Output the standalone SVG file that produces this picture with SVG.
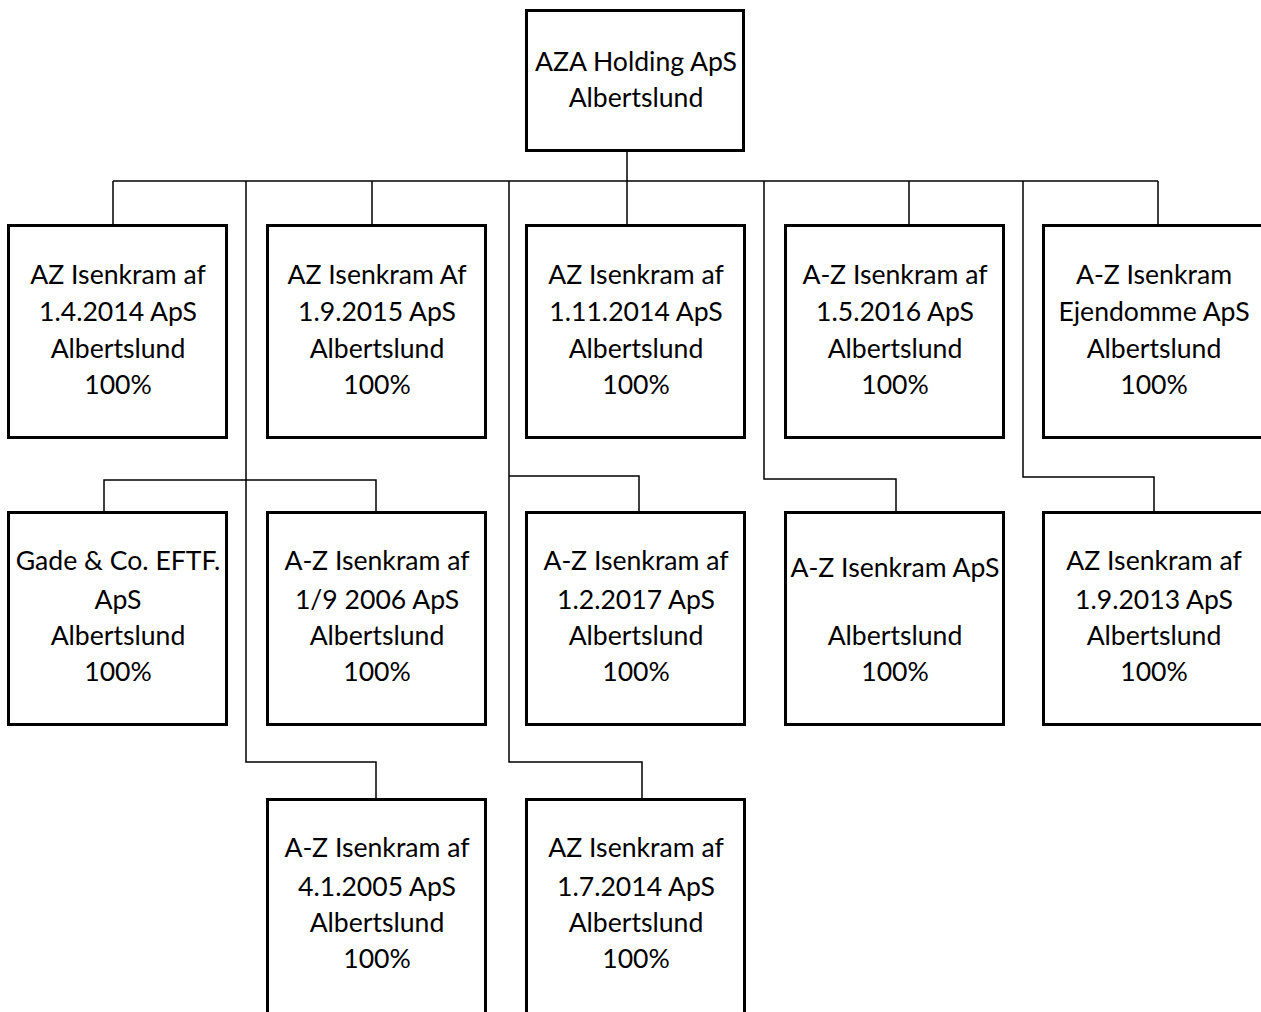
<svg xmlns="http://www.w3.org/2000/svg" width="1261" height="1012" viewBox="0 0 1261 1012">
<style>
.box{fill:#fff;stroke:#000;stroke-width:3}
.t{font-family:Lato,"Liberation Sans",sans-serif;font-size:26.6px;fill:#000;text-anchor:middle}
.c{fill:none;stroke:#000;stroke-width:1.5}
</style>
<rect width="1261" height="1012" fill="#fff"/>
<g id="connectors">
<path class="c" d="M627 152V224"/>
<path class="c" d="M113 181H1158"/>
<path class="c" d="M113 181V224M372 181V224M909 181V224M1158 181V224"/>
<path class="c" d="M246 181V762H376V798"/>
<path class="c" d="M104 511V480H376V511"/>
<path class="c" d="M509 181V762H642V798"/>
<path class="c" d="M509 476H639V511"/>
<path class="c" d="M764 181V479H896V511"/>
<path class="c" d="M1023 181V477H1154V511"/>
</g>
<g id="n0"><rect class="box" x="526.5" y="10.5" width="217" height="140"/>
<text class="t" x="636" y="71">AZA Holding ApS</text><text class="t" x="636" y="107">Albertslund</text></g>

<g id="n1"><rect class="box" x="8.5" y="225.5" width="218" height="212"/>
<text class="t" x="118" y="284">AZ Isenkram af</text><text class="t" x="118" y="321">1.4.2014 ApS</text><text class="t" x="118" y="358">Albertslund</text><text class="t" x="118" y="394">100%</text></g>
<g id="n2"><rect class="box" x="267.5" y="225.5" width="218" height="212"/>
<text class="t" x="377" y="284">AZ Isenkram Af</text><text class="t" x="377" y="321">1.9.2015 ApS</text><text class="t" x="377" y="358">Albertslund</text><text class="t" x="377" y="394">100%</text></g>
<g id="n3"><rect class="box" x="526.5" y="225.5" width="218" height="212"/>
<text class="t" x="636" y="284">AZ Isenkram af</text><text class="t" x="636" y="321">1.11.2014 ApS</text><text class="t" x="636" y="358">Albertslund</text><text class="t" x="636" y="394">100%</text></g>
<g id="n4"><rect class="box" x="785.5" y="225.5" width="218" height="212"/>
<text class="t" x="895" y="284">A-Z Isenkram af</text><text class="t" x="895" y="321">1.5.2016 ApS</text><text class="t" x="895" y="358">Albertslund</text><text class="t" x="895" y="394">100%</text></g>
<g id="n5"><rect class="box" x="1043.5" y="225.5" width="220" height="212"/>
<text class="t" x="1154" y="284">A-Z Isenkram</text><text class="t" x="1154" y="321">Ejendomme ApS</text><text class="t" x="1154" y="358">Albertslund</text><text class="t" x="1154" y="394">100%</text></g>

<g id="n6"><rect class="box" x="8.5" y="512.5" width="218" height="212"/>
<text class="t" x="118" y="570">Gade &amp; Co. EFTF.</text><text class="t" x="118" y="609">ApS</text><text class="t" x="118" y="645">Albertslund</text><text class="t" x="118" y="681">100%</text></g>
<g id="n7"><rect class="box" x="267.5" y="512.5" width="218" height="212"/>
<text class="t" x="377" y="570">A-Z Isenkram af</text><text class="t" x="377" y="609">1/9 2006 ApS</text><text class="t" x="377" y="645">Albertslund</text><text class="t" x="377" y="681">100%</text></g>
<g id="n8"><rect class="box" x="526.5" y="512.5" width="218" height="212"/>
<text class="t" x="636" y="570">A-Z Isenkram af</text><text class="t" x="636" y="609">1.2.2017 ApS</text><text class="t" x="636" y="645">Albertslund</text><text class="t" x="636" y="681">100%</text></g>
<g id="n9"><rect class="box" x="785.5" y="512.5" width="218" height="212"/>
<text class="t" x="895" y="577">A-Z Isenkram ApS</text><text class="t" x="895" y="645">Albertslund</text><text class="t" x="895" y="681">100%</text></g>
<g id="n10"><rect class="box" x="1043.5" y="512.5" width="220" height="212"/>
<text class="t" x="1154" y="570">AZ Isenkram af</text><text class="t" x="1154" y="609">1.9.2013 ApS</text><text class="t" x="1154" y="645">Albertslund</text><text class="t" x="1154" y="681">100%</text></g>

<g id="n11"><rect class="box" x="267.5" y="799.5" width="218" height="230"/>
<text class="t" x="377" y="857">A-Z Isenkram af</text><text class="t" x="377" y="896">4.1.2005 ApS</text><text class="t" x="377" y="932">Albertslund</text><text class="t" x="377" y="968">100%</text></g>
<g id="n12"><rect class="box" x="526.5" y="799.5" width="218" height="230"/>
<text class="t" x="636" y="857">AZ Isenkram af</text><text class="t" x="636" y="896">1.7.2014 ApS</text><text class="t" x="636" y="932">Albertslund</text><text class="t" x="636" y="968">100%</text></g>
</svg>
